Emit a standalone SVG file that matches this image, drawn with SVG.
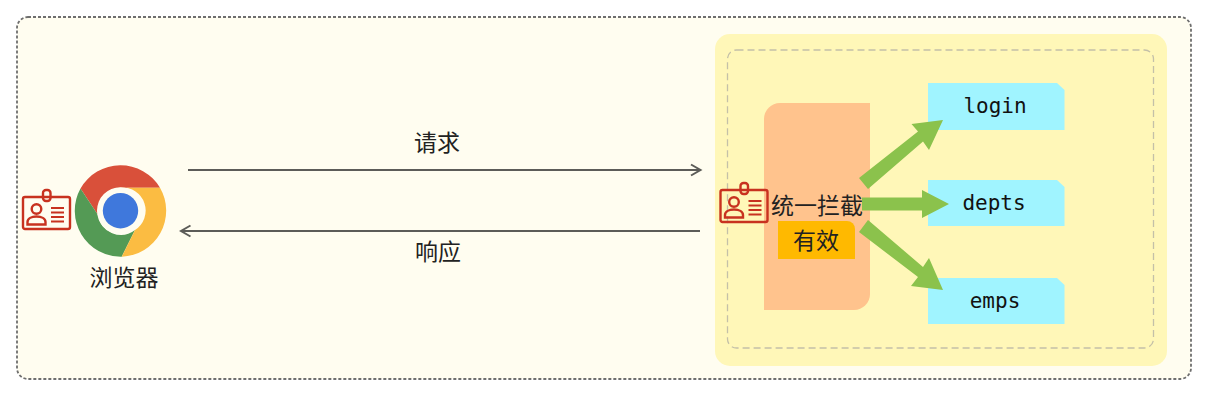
<svg xmlns="http://www.w3.org/2000/svg" width="1209" height="400" viewBox="0 0 1209 400">
<style>
.cjk{font-family:"Noto Sans CJK SC","Liberation Sans",sans-serif;font-size:23px;fill:#222;text-anchor:middle}
.mono{font-family:"DejaVu Sans Mono","Liberation Mono",monospace;font-size:21px;fill:#111;text-anchor:middle}
.api{fill:#a0f4ff}
.flow{fill:#8bc24c}
.wire{fill:none;stroke:#5c5c58;stroke-width:2}
.badge{fill:none;stroke:#c8321f;stroke-width:2.4}
.badgeline{fill:none;stroke:#c8321f;stroke-width:1.8}
</style>
<defs>
<g id="idcard">
<rect class="badge" x="1" y="8" width="47" height="32" rx="2"/>
<rect class="badge" x="21" y="1" width="7.5" height="11" rx="3"/>
<circle class="badge" cx="14.500" cy="20" r="4.800"/>
<path class="badge" d="M5.500 35.500v-2.500c0-3.500 4-5.500 9-5.500s9 2 9 5.500v2.500z"/>
<path class="badgeline" d="M29 19h13M29 23.500h13M29 28h13M29 32.500h13"/>
</g>
</defs>
<rect width="1209" height="400" fill="#fff"/>
<g id="frame">
<rect x="17" y="17" width="1174" height="362" rx="11" fill="#fffdf0" stroke="#6e6e6e" stroke-width="1.800" stroke-dasharray="3 2"/>
</g>
<g id="server">
<rect x="715" y="34" width="452" height="332" rx="15" fill="#fff7b8"/>
<rect x="727.500" y="50" width="426" height="298" rx="9" fill="none" stroke="#c4c0a8" stroke-width="1.300" stroke-dasharray="7 4"/>
</g>
<g id="browser">
<path d="M80.500 188.500A46 46 0 0 1 160 187.700H120.500A23 23 0 0 0 98 215z" fill="#d9503a"/>
<path d="M80.500 188.500L98 215A23 23 0 0 0 135 230L121.700 256.700A46 46 0 0 1 80.500 188.500z" fill="#549a55"/>
<path d="M160 187.700A46 46 0 0 1 121.700 256.700L135 230A23 23 0 0 0 120.500 187.700z" fill="#fbbc42"/>
<circle cx="120.500" cy="210.700" r="23.500" fill="#fffdf0"/>
<circle cx="120.500" cy="210.700" r="17.700" fill="#3f78dc"/>
<use href="#idcard" x="22" y="189"/>
<text class="cjk" x="124" y="286">浏览器</text>
</g>
<g id="interceptor">
<path d="M780 103H870V294A16 16 0 0 1 854 310H764V119A16 16 0 0 1 780 103z" fill="#ffc38d"/>
<text class="cjk" x="817" y="214">统一拦截</text>
<use href="#idcard" x="719.500" y="182"/>
</g>
<g id="valid">
<path d="M778 221H847A8 8 0 0 1 855 229V259H778z" fill="#ffb900"/>
<text class="cjk" x="816" y="249">有效</text>
</g>
<g id="login">
<path class="api" d="M928 83H1057L1064.500 90V130H928z"/>
<text class="mono" x="995" y="113">login</text>
</g>
<g id="depts">
<path class="api" d="M928 180H1057L1064.500 187V226H928z"/>
<text class="mono" x="994" y="210">depts</text>
</g>
<g id="emps">
<path class="api" d="M928 278H1057L1064.500 285V324H928z"/>
<text class="mono" x="995" y="308">emps</text>
</g>
<g id="connectors">
<path class="wire" d="M188 170H700M691 164.500L700.500 170L691 175.500"/>
<path class="wire" d="M700 231H181M190.500 225.500L181 231L190.500 236.500"/>
<path class="flow" d="M859 178L918 131.500L911.500 124L943 120L929 150L923 141.500L868 189z"/>
<path class="flow" d="M862 197.500H922V190L949 204L922 218V210.500H862z"/>
<path class="flow" d="M868 220L923 267L929 258L943 290L911 286L918 277L859 232z"/>
</g>
<g id="labels">
<text class="cjk" x="437" y="151">请求</text>
<text class="cjk" x="438" y="260">响应</text>
</g>
</svg>
